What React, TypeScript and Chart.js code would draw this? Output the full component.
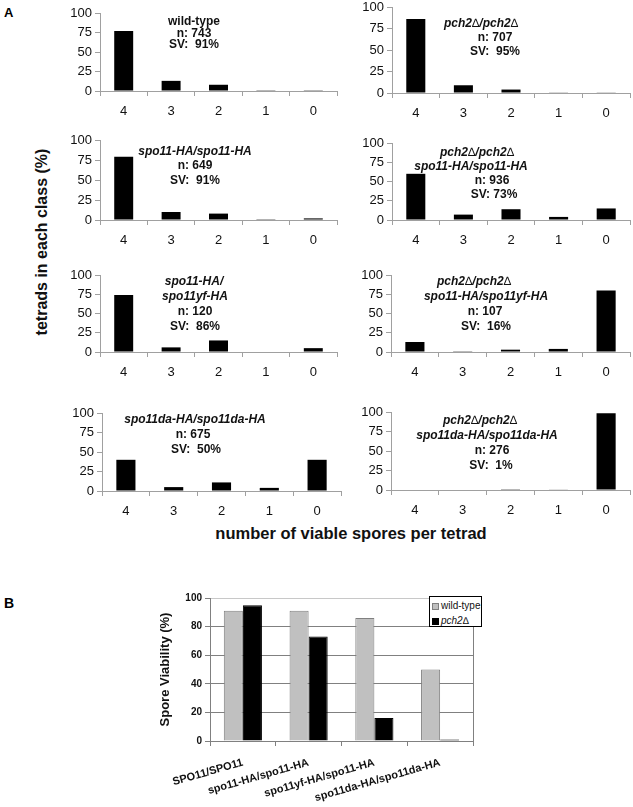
import React, { useEffect, useRef } from "react";
import { Chart, registerables } from "chart.js";

Chart.register(...registerables);

const FONT = "'Liberation Sans', Arial, Helvetica, sans-serif";
Chart.defaults.font.family = FONT;

// ---------- Panel A data ----------
const sporeClasses = ["4", "3", "2", "1", "0"];
const wildTypeTetrads = [77, 13, 8, 1, 1];
const pch2Tetrads = [86, 9, 4, 0.4, 0.4];
const spo11HATetrads = [79, 10, 8, 1, 2];
const pch2Spo11HATetrads = [60, 7, 14, 4, 15];
const spo11yfTetrads = [74, 6, 15, 0, 5];
const pch2Spo11yfTetrads = [13, 1, 3, 4, 80];
const spo11daTetrads = [40, 5, 11, 4, 40];
const pch2Spo11daTetrads = [0, 0, 1, 0.5, 98.5];
const percentTicks = [0, 25, 50, 75, 100];

const wildTypeLabel = ["wild-type"];
const wildTypeStats = ["n: 743", "SV:  91%"];
const pch2Label = ["pch2\u2206/pch2\u2206"];
const pch2Stats = ["n: 707", "SV:  95%"];
const spo11HALabel = ["spo11-HA/spo11-HA"];
const spo11HAStats = ["n: 649", "SV:  91%"];
const pch2Spo11HALabel = ["pch2\u2206/pch2\u2206", "spo11-HA/spo11-HA"];
const pch2Spo11HAStats = ["n: 936", "SV: 73%"];
const spo11yfLabel = ["spo11-HA/", "spo11yf-HA"];
const spo11yfStats = ["n: 120", "SV:  86%"];
const pch2Spo11yfLabel = ["pch2\u2206/pch2\u2206", "spo11-HA/spo11yf-HA"];
const pch2Spo11yfStats = ["n: 107", "SV:  16%"];
const spo11daLabel = ["spo11da-HA/spo11da-HA"];
const spo11daStats = ["n: 675", "SV:  50%"];
const pch2Spo11daLabel = ["pch2\u2206/pch2\u2206", "spo11da-HA/spo11da-HA"];
const pch2Spo11daStats = ["n: 276", "SV:  1%"];

// ---------- Panel B data ----------
const svGenotypes = ["SPO11/SPO11", "spo11-HA/spo11-HA", "spo11yf-HA/spo11-HA", "spo11da-HA/spo11da-HA"];
const svWildType = [91, 91, 86, 50];
const svPch2 = [95, 73, 16, 1];
const svSeriesNames = ["wild-type", "pch2\u2206"];

// ---------- layout ----------
const AXIS = "#a0a0a0";
const Y_W = 40;
const X_H = 30;
const PAD_T = 12;
const PAD_R = 2;

type Box = { x: number; y: number; w: number; h: number };
type Note = { cx: number[]; y0: number; dy: number };

const panels: { values: number[]; box: Box; italic: string[]; stats: string[]; note: Note }[] = [
  { values: wildTypeTetrads, box: { x: 100, y: 13, w: 237, h: 78 }, italic: [], stats: [...wildTypeLabel, ...wildTypeStats], note: { cx: [194, 194, 194], y0: 21, dy: 11.7 } },
  { values: pch2Tetrads, box: { x: 392, y: 7, w: 238, h: 86 }, italic: pch2Label, stats: pch2Stats, note: { cx: [481, 495, 495], y0: 23, dy: 14 } },
  { values: spo11HATetrads, box: { x: 100, y: 140, w: 237, h: 80 }, italic: spo11HALabel, stats: spo11HAStats, note: { cx: [195, 195, 195], y0: 151, dy: 14.3 } },
  { values: pch2Spo11HATetrads, box: { x: 392, y: 143, w: 238, h: 77 }, italic: pch2Spo11HALabel, stats: pch2Spo11HAStats, note: { cx: [477, 471, 492, 494], y0: 152, dy: 13.9 } },
  { values: spo11yfTetrads, box: { x: 100, y: 275, w: 237, h: 77 }, italic: spo11yfLabel, stats: spo11yfStats, note: { cx: [194, 195, 195, 195], y0: 281, dy: 15 } },
  { values: pch2Spo11yfTetrads, box: { x: 391, y: 275, w: 239, h: 77 }, italic: pch2Spo11yfLabel, stats: pch2Spo11yfStats, note: { cx: [474, 486, 485, 486], y0: 281, dy: 15 } },
  { values: spo11daTetrads, box: { x: 102, y: 413, w: 239, h: 78 }, italic: spo11daLabel, stats: spo11daStats, note: { cx: [195, 193, 196], y0: 419, dy: 15 } },
  { values: pch2Spo11daTetrads, box: { x: 391, y: 412, w: 239, h: 78 }, italic: pch2Spo11daLabel, stats: pch2Spo11daStats, note: { cx: [480, 487, 492, 491], y0: 420, dy: 15 } },
];

function TetradPanel({ values, box }: { values: number[]; box: Box }) {
  const ref = useRef<HTMLCanvasElement>(null);
  const cw = box.w + Y_W + PAD_R;
  const ch = box.h + PAD_T + X_H;
  useEffect(() => {
    const chart = new Chart(ref.current as HTMLCanvasElement, {
      type: "bar",
      data: {
        labels: sporeClasses,
        datasets: [
          {
            data: values,
            backgroundColor: "#000",
            borderWidth: 0,
            barPercentage: 0.4,
            categoryPercentage: 1,
          },
        ],
      },
      options: {
        animation: false,
        responsive: false,
        maintainAspectRatio: false,
        layout: { padding: { top: PAD_T, right: PAD_R, left: 0, bottom: 0 } },
        plugins: { legend: { display: false }, tooltip: { enabled: false } },
        scales: {
          x: {
            grid: { offset: true, drawOnChartArea: false, drawTicks: true, tickLength: 5, color: AXIS },
            border: { color: AXIS },
            ticks: { font: { size: 13 }, color: "#111", padding: 8 },
            afterFit: (s: any) => {
              s.height = X_H;
            },
          },
          y: {
            min: 0,
            max: 100,
            afterBuildTicks: (s: any) => {
              s.ticks = percentTicks.map((v) => ({ value: v }));
            },
            ticks: { font: { size: 13 }, color: "#111", padding: 3 },
            grid: { drawOnChartArea: false, tickLength: 5, color: AXIS },
            border: { color: AXIS },
            afterFit: (s: any) => {
              s.width = Y_W;
            },
          },
        },
      },
    });
    return () => chart.destroy();
  }, []);
  return (
    <canvas
      ref={ref}
      width={cw}
      height={ch}
      style={{ position: "absolute", left: box.x - Y_W, top: box.y - PAD_T, width: cw, height: ch }}
    />
  );
}

// render the delta sign thin (not bold), as in the original figure
function withThinDelta(text: string) {
  const parts = text.split("\u2206");
  const out: React.ReactNode[] = [];
  parts.forEach((p, i) => {
    out.push(p);
    if (i < parts.length - 1)
      out.push(
        <span key={i} style={{ fontWeight: "normal", fontStyle: "normal" }}>
          {"\u2206"}
        </span>
      );
  });
  return out;
}

function Annotation({ italic, stats, note }: { italic: string[]; stats: string[]; note: Note }) {
  const lines = [...italic.map((t) => ({ t, it: true })), ...stats.map((t) => ({ t, it: false }))];
  return (
    <>
      {lines.map((l, i) => (
        <div
          key={i}
          style={{
            position: "absolute",
            left: note.cx[i] ?? note.cx[0],
            top: note.y0 + i * note.dy,
            transform: "translate(-50%, -50%)",
            whiteSpace: "pre",
            fontWeight: "bold",
            fontStyle: l.it ? "italic" : "normal",
            fontSize: 12,
            lineHeight: "14px",
            color: "#111",
          }}
        >
          {withThinDelta(l.t)}
        </div>
      ))}
    </>
  );
}

const frameRight = {
  id: "frameRight",
  beforeDatasetsDraw(chart: any) {
    const { ctx, chartArea } = chart;
    ctx.save();
    ctx.strokeStyle = "#808080";
    ctx.lineWidth = 1;
    ctx.beginPath();
    ctx.moveTo(Math.round(chartArea.right) + 0.5, chartArea.top);
    ctx.lineTo(Math.round(chartArea.right) + 0.5, chartArea.bottom);
    ctx.stroke();
    ctx.restore();
  },
};

const B_BOX: Box = { x: 210, y: 597, w: 263, h: 144 };
const B_YW = 56;
const B_PT = 8;
const B_XH = 66;

function ViabilityChart() {
  const ref = useRef<HTMLCanvasElement>(null);
  const cw = B_BOX.w + B_YW + PAD_R;
  const ch = B_BOX.h + B_PT + B_XH;
  useEffect(() => {
    const chart = new Chart(ref.current as HTMLCanvasElement, {
      type: "bar",
      data: {
        labels: svGenotypes,
        datasets: [
          {
            label: svSeriesNames[0],
            data: svWildType,
            backgroundColor: "#c0c0c0",
            borderColor: "#808080",
            borderWidth: 1,
            categoryPercentage: 0.58,
            barPercentage: 1,
          },
          {
            label: svSeriesNames[1],
            data: svPch2,
            backgroundColor: "#000",
            borderColor: "#000",
            borderWidth: 1,
            categoryPercentage: 0.58,
            barPercentage: 1,
          },
        ],
      },
      options: {
        animation: false,
        responsive: false,
        maintainAspectRatio: false,
        layout: { padding: { top: B_PT, right: PAD_R, left: 0, bottom: 0 } },
        plugins: { legend: { display: false }, tooltip: { enabled: false } },
        scales: {
          x: {
            grid: { offset: true, drawOnChartArea: false, tickLength: 5, color: "#808080" },
            border: { color: "#808080" },
            ticks: {
              minRotation: 16,
              maxRotation: 16,
              autoSkip: false,
              font: { size: 11, weight: "bold" },
              color: "#111",
              padding: 10,
            },
            afterFit: (s: any) => {
              s.height = B_XH;
            },
          },
          y: {
            min: 0,
            max: 100,
            ticks: { stepSize: 20, font: { size: 10, weight: "bold" }, color: "#111", padding: 3 },
            grid: {
              color: (c: any) => (c.tick && c.tick.value === 100 ? "#c8c8c8" : "#808080"),
              tickColor: "#808080",
              tickLength: 5,
            },
            border: { color: "#808080" },
            title: {
              display: true,
              text: "Spore Viability (%)",
              font: { size: 13, weight: "bold" },
              color: "#111",
              padding: { top: 4, bottom: 0 },
            },
            afterFit: (s: any) => {
              s.width = B_YW;
            },
          },
        },
      },
      plugins: [frameRight],
    });
    return () => chart.destroy();
  }, []);
  return (
    <canvas
      ref={ref}
      width={cw}
      height={ch}
      style={{ position: "absolute", left: B_BOX.x - B_YW, top: B_BOX.y - B_PT, width: cw, height: ch }}
    />
  );
}

function Legend() {
  const item = (color: string, border: string, text: string, italic: boolean, top: number) => (
    <div style={{ position: "absolute", left: 2, top, height: 12, display: "flex", alignItems: "center" }}>
      <div style={{ width: 5, height: 5, background: color, border: `1px solid ${border}`, marginRight: 2 }} />
      <span style={{ fontSize: 10, fontStyle: italic ? "italic" : "normal", color: "#111", lineHeight: "12px" }}>{text}</span>
    </div>
  );
  return (
    <div
      style={{
        position: "absolute",
        left: 429,
        top: 596,
        width: 51,
        height: 29,
        border: "1px solid #000",
        background: "#fff",
      }}
    >
      {item("#c0c0c0", "#808080", svSeriesNames[0], false, 3)}
      {item("#000", "#000", svSeriesNames[1], true, 18)}
    </div>
  );
}

export default function App() {
  return (
    <div
      style={{
        position: "absolute",
        left: 0,
        top: 0,
        width: 633,
        height: 807,
        background: "#fff",
        fontFamily: FONT,
        overflow: "hidden",
      }}
    >
      <div style={{ position: "absolute", left: 4, top: 5, fontWeight: "bold", fontSize: 13, lineHeight: "16px" }}>A</div>
      <div style={{ position: "absolute", left: 4, top: 595, fontWeight: "bold", fontSize: 14, lineHeight: "17px" }}>B</div>
      {panels.map((p, i) => (
        <TetradPanel key={i} values={p.values} box={p.box} />
      ))}
      {panels.map((p, i) => (
        <Annotation key={"n" + i} italic={p.italic} stats={p.stats} note={p.note} />
      ))}
      <div
        style={{
          position: "absolute",
          left: 42,
          top: 242,
          transform: "translate(-50%, -50%) rotate(-90deg)",
          whiteSpace: "nowrap",
          fontWeight: "bold",
          fontSize: 16,
          color: "#111",
        }}
      >
        tetrads in each class (%)
      </div>
      <div
        style={{
          position: "absolute",
          left: 351,
          top: 533,
          transform: "translate(-50%, -50%)",
          whiteSpace: "nowrap",
          fontWeight: "bold",
          fontSize: 16.5,
          color: "#111",
        }}
      >
        number of viable spores per tetrad
      </div>
      <ViabilityChart />
      <Legend />
    </div>
  );
}
